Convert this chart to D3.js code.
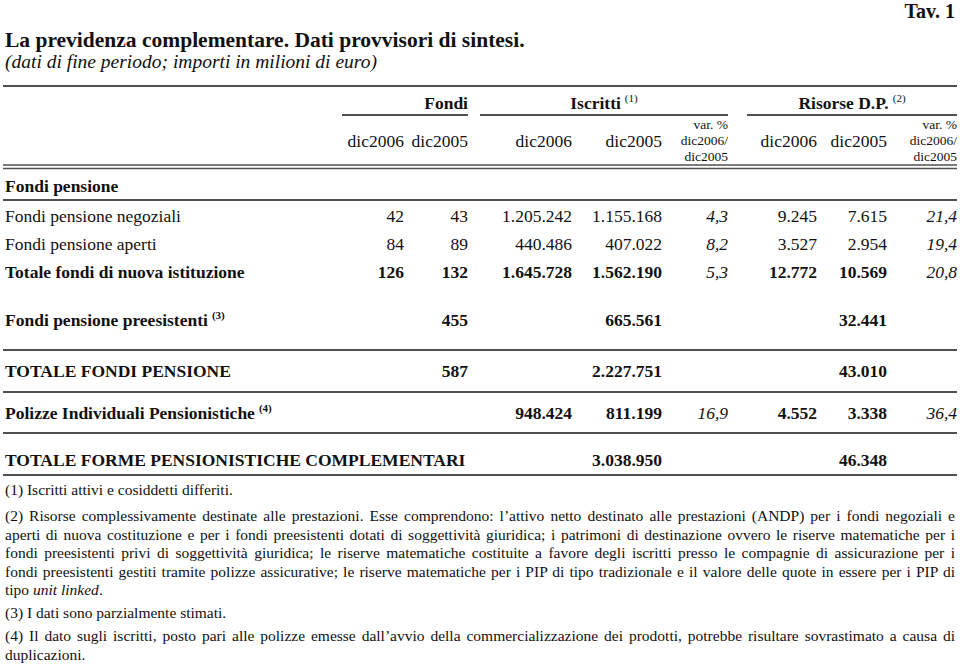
<!DOCTYPE html>
<html>
<head>
<meta charset="utf-8">
<script src="https://cdn.jsdelivr.net/npm/d3@7"></script>
<style>
  body { margin: 0; background: #fff; }
  svg text { font-family: "Liberation Serif", "Times New Roman", serif; fill: #111; }
</style>
</head>
<body>
<svg id="svg_tav" width="960" height="665"></svg>
<script>
// table values (milioni di euro / numero)
const rowLabels = [
  'Fondi pensione negoziali',
  'Fondi pensione aperti',
  'Totale fondi di nuova istituzione',
  'Fondi pensione preesistenti',
  'TOTALE FONDI PENSIONE',
  'Polizze Individuali Pensionistiche',
  'TOTALE FORME PENSIONISTICHE COMPLEMENTARI'
]
const rowNotes = [null, null, null, '(3)', null, '(4)', null]
const rowBold = [false, false, true, true, true, true, true]

const fondi2006 = [42, 84, 126, null, null, null, null]
const fondi2005 = [43, 89, 132, 455, 587, null, null]
const iscritti2006 = [1205242, 440486, 1645728, null, null, 948424, null]
const iscritti2005 = [1155168, 407022, 1562190, 665561, 2227751, 811199, 3038950]
const iscrittiVar = [4.3, 8.2, 5.3, null, null, 16.9, null]
const risorse2006 = [9245, 3527, 12772, null, null, 4552, null]
const risorse2005 = [7615, 2954, 10569, 32441, 43010, 3338, 46348]
const risorseVar = [21.4, 19.4, 20.8, null, null, 36.4, null]

const colKeys = ['fondi06', 'fondi05', 'iscr06', 'iscr05', 'iscrVar', 'ris06', 'ris05', 'risVar']
const colHeads = ['dic2006', 'dic2005', 'dic2006', 'dic2005', 'var', 'dic2006', 'dic2005', 'var']
const groups = [
  { name: 'Fondi', note: null, from: 'fondi06', to: 'fondi05' },
  { name: 'Iscritti', note: '(1)', from: 'iscr06', to: 'iscrVar' },
  { name: 'Risorse D.P.', note: '(2)', from: 'ris06', to: 'risVar' }
]

const footnote1 = '(1) Iscritti attivi e cosiddetti differiti.'
const footnote2 = [
  '(2) Risorse complessivamente destinate alle prestazioni. Esse comprendono: l\u2019attivo netto destinato alle prestazioni (ANDP) per i fondi negoziali e',
  'aperti di nuova costituzione e per i fondi preesistenti dotati di soggettività giuridica; i patrimoni di destinazione ovvero le riserve matematiche per i',
  'fondi preesistenti privi di soggettività giuridica; le riserve matematiche costituite a favore degli iscritti presso le compagnie di assicurazione per i',
  'fondi preesistenti gestiti tramite polizze assicurative; le riserve matematiche per i PIP di tipo tradizionale e il valore delle quote in essere per i PIP di'
]
const footnote3 = '(3) I dati sono parzialmente stimati.'
const footnote4 = [
  '(4) Il dato sugli iscritti, posto pari alle polizze emesse dall\u2019avvio della commercializzazione dei prodotti, potrebbe risultare sovrastimato a causa di',
  'duplicazioni.'
]

function drawTable() {
  const svg = d3.select('#svg_tav')
  const left = 3, right = 957
  const ruleColor = '#505050'

  const it = d3.formatLocale({ decimal: ',', thousands: '.', grouping: [3], currency: ['', '\u20ac'] })
  const fmtInt = it.format(',d')
  const fmtVar = it.format(',.1f')

  // right edge of each column
  const x = d3.scaleOrdinal()
    .domain(colKeys)
    .range([404, 468, 572, 662, 728, 817, 887, 957])

  // baseline of each row
  const y = d3.scaleOrdinal()
    .domain(rowLabels)
    .range([222, 250, 278, 326, 377, 419, 466])

  const rule = (y0, x0 = left, x1 = right, w = 2) => svg.append('line')
    .attr('x1', x0).attr('x2', x1).attr('y1', y0).attr('y2', y0)
    .attr('stroke', ruleColor).attr('stroke-width', w)

  // titles
  svg.append('text').attr('x', 955).attr('y', 18).attr('text-anchor', 'end')
    .attr('font-size', 20).attr('font-weight', 'bold').text('Tav. 1')
  svg.append('text').attr('x', 5).attr('y', 47)
    .attr('font-size', 21.5).attr('font-weight', 'bold')
    .text('La previdenza complementare. Dati provvisori di sintesi.')
  svg.append('text').attr('x', 5).attr('y', 68)
    .attr('font-size', 19.5).attr('font-style', 'italic')
    .text('(dati di fine periodo; importi in milioni di euro)')

  rule(86)

  // group headers, with the rule under each
  const leftPad = { 'Fondi': 62, 'Iscritti': 92, 'Risorse D.P.': 70 }
  groups.forEach(g => {
    const x1 = x(g.to)
    const x0 = x(g.from) - leftPad[g.name]
    const t = svg.append('text').attr('y', 109).attr('font-size', 17.5).attr('font-weight', 'bold')
    t.append('tspan').text(g.name)
    if (g.note) t.append('tspan').attr('font-size', 11).attr('font-weight', 'normal')
      .attr('dx', 4).attr('dy', -7).text(g.note)
    if (g.name === 'Fondi') {
      t.attr('x', x1).attr('text-anchor', 'end')
    } else {
      t.attr('x', (x0 + x1) / 2).attr('text-anchor', 'middle')
    }
    rule(115, x0, x1, 2)
  })

  // column headers
  colKeys.forEach((k, i) => {
    if (colHeads[i] === 'var') {
      const lines = ['var. %', 'dic2006/', 'dic2005']
      lines.forEach((l, j) => {
        svg.append('text').attr('x', x(k)).attr('y', 129 + j * 16)
          .attr('text-anchor', 'end').attr('font-size', 13.5).text(l)
      })
    } else {
      svg.append('text').attr('x', x(k)).attr('y', 147)
        .attr('text-anchor', 'end').attr('font-size', 17.5).text(colHeads[i])
    }
  })

  rule(165, left, right, 1.6)
  rule(168.5, left, right, 1.6)

  svg.append('text').attr('x', 5).attr('y', 192)
    .attr('font-size', 17.5).attr('font-weight', 'bold').text('Fondi pensione')
  rule(200)

  // row labels
  rowLabels.forEach((r, i) => {
    const t = svg.append('text').attr('x', 5).attr('y', y(r))
      .attr('font-size', 17.5).attr('font-weight', rowBold[i] ? 'bold' : 'normal')
    t.append('tspan').text(r)
    if (rowNotes[i]) t.append('tspan').attr('font-size', 11).attr('dx', 4).attr('dy', -7).text(rowNotes[i])
  })

  // cells
  const series = [fondi2006, fondi2005, iscritti2006, iscritti2005, iscrittiVar, risorse2006, risorse2005, risorseVar]
  const cells = []
  series.forEach((vals, c) => {
    vals.forEach((v, r) => {
      if (v === null) return
      const isVar = colHeads[c] === 'var'
      cells.push({ col: colKeys[c], row: rowLabels[r], text: isVar ? fmtVar(v) : fmtInt(v), isVar, bold: rowBold[r] })
    })
  })

  svg.append('g')
    .selectAll('text')
    .data(cells)
    .enter()
    .append('text')
    .attr('x', d => x(d.col))
    .attr('y', d => y(d.row))
    .attr('text-anchor', 'end')
    .attr('font-size', 17.5)
    .attr('font-style', d => d.isVar ? 'italic' : 'normal')
    .attr('font-weight', d => (d.bold && !d.isVar) ? 'bold' : 'normal')
    .text(d => d.text)

  rule(350)
  rule(392)
  rule(433)
  rule(475)

  // footnotes
  const fs = 15.5
  const note = (txt, yy) => svg.append('text').attr('x', 5).attr('y', yy).attr('font-size', fs).text(txt)

  const justify = (t, target) => {
    const w = t.node().getComputedTextLength()
    const spaces = (t.text().match(/ /g) || []).length
    if (spaces) t.attr('word-spacing', (target - w) / spaces)
  }

  note(footnote1, 495)
  footnote2.forEach((l, i) => justify(note(l, 521 + i * 18.5), 950))
  const last = svg.append('text').attr('x', 5).attr('y', 595).attr('font-size', fs)
  last.append('tspan').text('tipo ')
  last.append('tspan').attr('font-style', 'italic').text('unit linked')
  last.append('tspan').text('.')
  note(footnote3, 618)
  justify(note(footnote4[0], 641), 950)
  note(footnote4[1], 660)
}

drawTable()
</script>
</body>
</html>
